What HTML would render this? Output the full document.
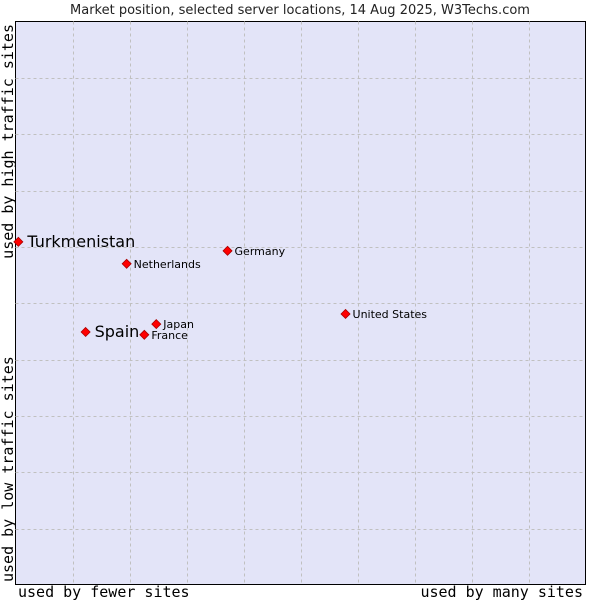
<!DOCTYPE html>
<html><head><meta charset="utf-8"><style>
body{margin:0;background:#fff;width:600px;height:600px;overflow:hidden}
svg text{font-family:"DejaVu Sans","Liberation Sans",sans-serif}
.mono{font-family:"DejaVu Sans Mono","Liberation Mono",monospace}
</style></head><body>
<svg id="chart" width="600" height="600">
<text x="300" y="14" text-anchor="middle" font-size="13" fill="#222">Market position, selected server locations, 14 Aug 2025, W3Techs.com</text>
<rect x="15.5" y="21.5" width="570" height="563" fill="#e3e4f8" stroke="#000" stroke-width="1"/>
<g id="grid"></g>
<g id="points"></g>
<text class="mono" x="18" y="597" font-size="15" fill="#000">used by fewer sites</text>
<text class="mono" x="583" y="597" font-size="15" fill="#000" text-anchor="end">used by many sites</text>
<text class="mono" transform="translate(13,24) rotate(-90)" font-size="15" text-anchor="end" fill="#000">used by high traffic sites</text>
<text class="mono" transform="translate(13,582) rotate(-90)" font-size="15" fill="#000">used by low traffic sites</text>
</svg>
<script>
const names=["Turkmenistan","Netherlands","Germany","United States","Japan","Spain","France"];
const xVals=[0.5,19.5,37.2,57.9,24.7,12.3,22.6];
const yVals=[60.9,57.0,59.3,48.1,46.3,44.9,44.4];
const highlighted=[true,false,false,false,false,true,false];
const L=15.5,R=585.5,T=21.5,B=585;
const sx=v=>L+(R-L)*v/100, sy=v=>B-(B-T)*v/100;
const NS="http://www.w3.org/2000/svg";
const grid=document.getElementById('grid'), pts=document.getElementById('points');
for(let i=1;i<10;i++){
  const v=document.createElementNS(NS,'line');
  
  
  const x=Math.round(sx(i*10))+0.5;
  v.setAttribute('x1',x);v.setAttribute('x2',x);v.setAttribute('y1',T);v.setAttribute('y2',584.5);
  v.setAttribute('stroke','#c0c0c0');v.setAttribute('stroke-dasharray','3,3');grid.appendChild(v);
  const h=document.createElementNS(NS,'line');
  
  
  const y=Math.round(sy(i*10))+0.5;
  h.setAttribute('y1',y);h.setAttribute('y2',y);h.setAttribute('x1',L);h.setAttribute('x2',R);
  h.setAttribute('stroke','#c0c0c0');h.setAttribute('stroke-dasharray','3,3');grid.appendChild(h);
}
names.forEach((n,i)=>{
  const x=sx(xVals[i]),y=sy(yVals[i]);
  const m=document.createElementNS(NS,'path');
  
  
  m.setAttribute('d',`M${x},${y-4.5}L${x+4.5},${y}L${x},${y+4.5}L${x-4.5},${y}Z`);
  m.setAttribute('fill','#f00');m.setAttribute('stroke','#a00');m.setAttribute('stroke-width','0.8');
  pts.appendChild(m);
  const t=document.createElementNS(NS,'text');
  
  
  const big=highlighted[i];
  t.setAttribute('x',x+(big?9:7));t.setAttribute('y',y+(big?5:4));
  t.setAttribute('font-size',big?16:11);t.setAttribute('fill','#000');
  t.textContent=n;pts.appendChild(t);
});
</script>
</body></html>
